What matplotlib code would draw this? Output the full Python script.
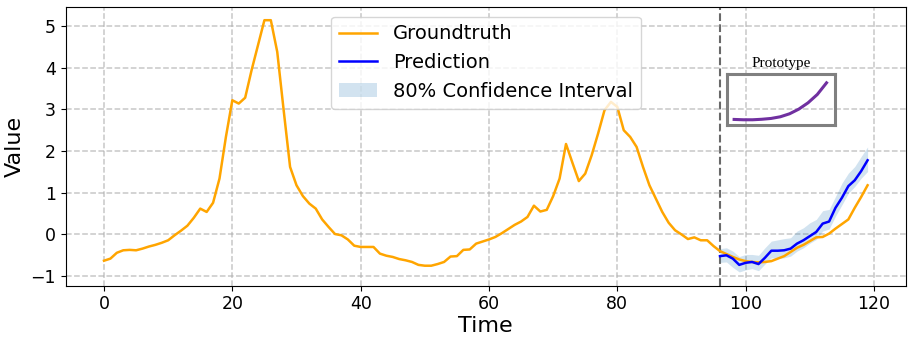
import numpy as np
from matplotlib import pyplot as plt

# groundtruth series, t = 0..119
groundtruth = [
    -0.63, -0.58, -0.44, -0.38, -0.37, -0.38, -0.34, -0.29, -0.25, -0.20,
    -0.14, -0.02, 0.09, 0.21, 0.40, 0.62, 0.54, 0.76, 1.34, 2.34,
    3.22, 3.14, 3.28, 3.94, 4.54, 5.14, 5.14, 4.38, 2.98, 1.62,
    1.18, 0.92, 0.74, 0.62, 0.36, 0.18, 0.01, -0.02, -0.12, -0.27,
    -0.30, -0.30, -0.30, -0.46, -0.51, -0.54, -0.59, -0.62, -0.66, -0.73,
    -0.75, -0.75, -0.71, -0.66, -0.53, -0.52, -0.37, -0.36, -0.22, -0.17,
    -0.12, -0.06, 0.03, 0.13, 0.23, 0.31, 0.42, 0.69, 0.55, 0.59,
    0.92, 1.34, 2.17, 1.72, 1.28, 1.46, 1.90, 2.42, 2.98, 3.18,
    3.06, 2.50, 2.34, 2.10, 1.62, 1.18, 0.86, 0.54, 0.28, 0.10,
    0.00, -0.11, -0.07, -0.14, -0.14, -0.28, -0.40, -0.47, -0.54, -0.60,
    -0.64, -0.66, -0.67, -0.66, -0.64, -0.58, -0.52, -0.42, -0.32, -0.25,
    -0.16, -0.07, -0.06, 0.02, 0.14, 0.25, 0.36, 0.64, 0.90, 1.18,
]

# forecast horizon, t = 96..119
pred_start = 96
prediction = [
    -0.52, -0.50, -0.58, -0.73, -0.68, -0.66, -0.71, -0.56, -0.39, -0.39,
    -0.38, -0.34, -0.22, -0.14, -0.04, 0.06, 0.26, 0.31, 0.64, 0.88,
    1.16, 1.30, 1.52, 1.78,
]
upper = [
    -0.34, -0.32, -0.40, -0.53, -0.48, -0.48, -0.50, -0.32, -0.16, -0.13,
    -0.10, -0.08, 0.08, 0.16, 0.28, 0.36, 0.57, 0.60, 0.91, 1.23,
    1.47, 1.63, 1.87, 2.10,
]
lower = [
    -0.67, -0.66, -0.79, -0.90, -0.85, -0.82, -0.87, -0.71, -0.56, -0.58,
    -0.56, -0.52, -0.40, -0.32, -0.21, -0.12, 0.08, 0.13, 0.44, 0.71,
    0.99, 1.15, 1.35, 1.51,
]

# prototype shape shown in the inset
prototype = [0.00, -0.01, -0.01, 0.005, 0.03, 0.08, 0.17, 0.31, 0.50, 0.75, 1.10]

t_all = np.arange(len(groundtruth))
t_pred = np.arange(pred_start, pred_start + len(prediction))

fig = plt.figure(figsize=(9.14, 3.43), dpi=100)
ax = fig.add_axes([0.072, 0.167, 0.919, 0.813])

ax.plot(t_all, groundtruth, color='orange', lw=1.8, label='Groundtruth', zorder=3)
ax.plot(t_pred, prediction, color='blue', lw=1.8, label='Prediction', zorder=4)
ax.fill_between(t_pred, lower, upper, color='#1f77b4', alpha=0.2, lw=0,
                label='80% Confidence Interval', zorder=2)
ax.axvline(pred_start, color='dimgray', ls='--', lw=1.5, zorder=1)

ax.grid(True, ls='--', color='#b0b0b0', alpha=0.7, lw=1.1)
ax.set_ylim(-1.23, 5.46)
ax.set_xticks([0, 20, 40, 60, 80, 100, 120])
ax.tick_params(labelsize=12.5)
ax.set_xlabel('Time', fontsize=16, labelpad=2)
ax.set_ylabel('Value', fontsize=16)
ax.legend(loc='upper center', fontsize=14)

# prototype inset
ins = ax.inset_axes([0.787, 0.576, 0.129, 0.185])
ins.plot(np.arange(len(prototype)), prototype, color='#7030A0', lw=2.2)
ins.set_xlim(-0.785, 10.94)
ins.set_ylim(-0.17, 1.38)
ins.set_xticks([])
ins.set_yticks([])
ins.patch.set_alpha(0)
for s in ins.spines.values():
    s.set_color('gray')
    s.set_linewidth(2.2)
ins.set_title('Prototype', fontfamily='Liberation Serif', fontsize=11, pad=5)

fig.savefig('out.png', dpi=100)
